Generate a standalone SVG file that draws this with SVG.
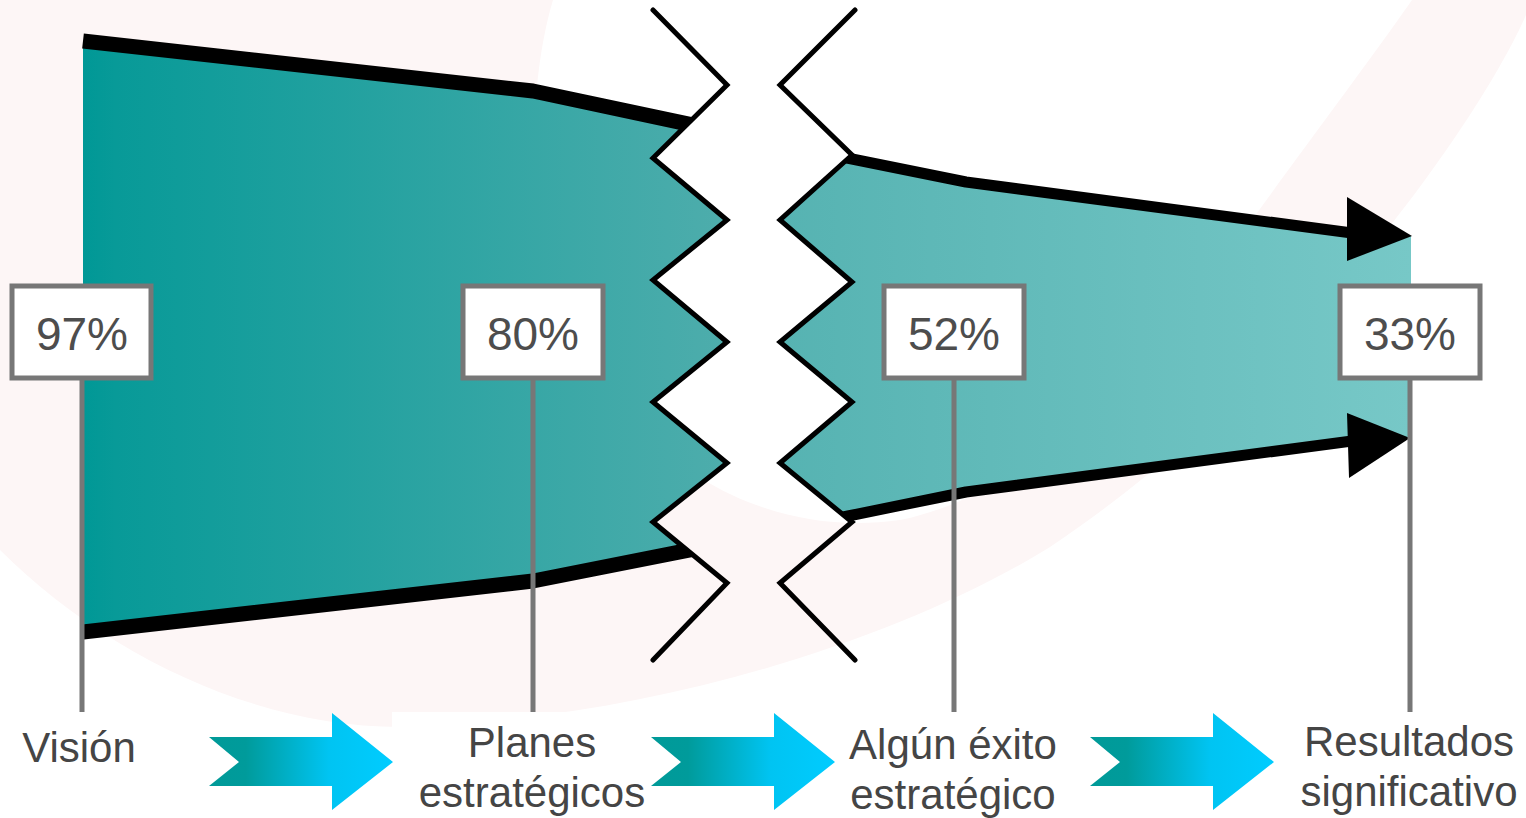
<svg xmlns="http://www.w3.org/2000/svg" width="1526" height="818" viewBox="0 0 1526 818">
  <defs>
    <linearGradient id="gLeft" gradientUnits="userSpaceOnUse" x1="83" y1="0" x2="730" y2="0">
      <stop offset="0" stop-color="#009896"/>
      <stop offset="0.05" stop-color="#089a98"/>
      <stop offset="1" stop-color="#4eadac"/>
    </linearGradient>
    <linearGradient id="gRight" gradientUnits="userSpaceOnUse" x1="780" y1="0" x2="1411" y2="0">
      <stop offset="0" stop-color="#56b3b2"/>
      <stop offset="1" stop-color="#77c8c7"/>
    </linearGradient>
    <linearGradient id="gChev" x1="0" y1="0" x2="1" y2="0">
      <stop offset="0" stop-color="#009a98"/>
      <stop offset="0.2" stop-color="#009b9b"/>
      <stop offset="0.65" stop-color="#00c4f2"/>
      <stop offset="1" stop-color="#00ccff"/>
    </linearGradient>
    <clipPath id="clipL">
      <path d="M0,0 L653,0 L653,10 L727,85 L653,158 L727,220 L653,280 L727,342 L653,402 L727,463 L653,522 L727,583 L653,660 L653,818 L0,818 Z"/>
    </clipPath>
    <clipPath id="clipR">
      <path d="M1526,0 L855,0 L855,10 L780,85 L852,155 L780,220 L852,282 L780,342 L852,402 L780,463 L852,522 L780,583 L855,660 L855,818 L1526,818 Z"/>
    </clipPath>
  </defs>
  <style>
    .thickL { fill: none; stroke: #000; stroke-width: 15; stroke-linejoin: round; }
    .thickR { fill: none; stroke: #000; stroke-width: 11; stroke-linejoin: round; }
    .zig { fill: none; stroke: #000; stroke-width: 5; stroke-linejoin: miter; stroke-linecap: round; }
    .box { fill: #fff; stroke: #777; stroke-width: 5; }
    .pole { stroke: #777; stroke-width: 5; }
    .pct { font-family: "Liberation Sans", Arial, sans-serif; font-size: 46px; fill: #4d4d4d; text-anchor: middle; }
    .lbl { font-family: "Liberation Sans", Arial, sans-serif; font-size: 42px; fill: #454545; text-anchor: middle; }
    .chev { fill: url(#gChev); }
  </style>

  <rect x="0" y="0" width="1526" height="818" fill="#fff"/>
  <g id="watermark">
    <path fill="#fdf6f6" fill-rule="evenodd" d="M0,0 H1526 V15 C1480,120 1300,380 1050,547 C900,640 650,720 400,727 C250,727 100,650 0,550 Z M553,0 C535,60 520,180 560,300 C620,460 760,540 900,520 C1050,490 1180,330 1257,213 C1310,140 1370,60 1412,0 Z"/>
    <rect x="392" y="712" width="258" height="106" fill="#fff"/>
  </g>

  <g id="node-left-band" clip-path="url(#clipL)">
    <path fill="url(#gLeft)" d="M83,41 L533,91 L740,135 L740,540 L533,581 L83,632 Z"/>
    <polyline class="thickL" points="83,41 533,91 740,135"/>
    <polyline class="thickL" points="83,632 533,581 740,540"/>
  </g>

  <g id="node-right-band">
    <g clip-path="url(#clipR)">
      <path fill="url(#gRight)" d="M760,145 L852,159 L966,182 L1350,233 L1411,236 L1411,438 L1350,441 L966,492 L848,516 L760,535 Z"/>
      <polyline class="thickR" points="760,141 852,159 966,182 1352,233"/>
      <polyline class="thickR" points="760,535 848,516 966,492 1352,441"/>
    </g>
    <polygon points="1347,197 1412,236 1347,261" fill="#000"/>
    <polygon points="1347,413 1410,438 1349,478" fill="#000"/>
  </g>

  <g id="break">
    <polyline class="zig" points="653,10 727,85 653,158 727,220 653,280 727,342 653,402 727,463 653,522 727,583 653,660"/>
    <polyline class="zig" points="855,10 780,85 852,155 780,220 852,282 780,342 852,402 780,463 852,522 780,583 855,660"/>
  </g>

  <g id="connectors">
    <line class="pole" x1="82" y1="378" x2="82" y2="712"/>
    <line class="pole" x1="533" y1="378" x2="533" y2="712"/>
    <line class="pole" x1="954" y1="378" x2="954" y2="712"/>
    <line class="pole" x1="1410" y1="378" x2="1410" y2="712"/>
    <path class="chev" d="M209,737 L332,737 L332,713 L393,762 L332,810 L332,786 L209,786 L239,762 Z"/>
    <path class="chev" d="M651,737 L774,737 L774,713 L835,762 L774,810 L774,786 L651,786 L681,762 Z"/>
    <path class="chev" d="M1090,737 L1213,737 L1213,713 L1274,762 L1213,810 L1213,786 L1090,786 L1120,762 Z"/>
  </g>

  <g id="node-97">
    <rect class="box" x="12" y="286" width="139" height="92"/>
    <text class="pct" x="82" y="350">97%</text>
  </g>
  <g id="node-80">
    <rect class="box" x="463" y="286" width="140" height="92"/>
    <text class="pct" x="533" y="350">80%</text>
  </g>
  <g id="node-52">
    <rect class="box" x="884" y="286" width="140" height="92"/>
    <text class="pct" x="954" y="350">52%</text>
  </g>
  <g id="node-33">
    <rect class="box" x="1340" y="286" width="140" height="92"/>
    <text class="pct" x="1410" y="350">33%</text>
  </g>

  <g id="node-vision">
    <text class="lbl" x="79" y="762">Visión</text>
  </g>
  <g id="node-planes">
    <text class="lbl" x="532" y="757">Planes</text>
    <text class="lbl" x="532" y="807">estratégicos</text>
  </g>
  <g id="node-exito">
    <text class="lbl" x="953" y="759">Algún éxito</text>
    <text class="lbl" x="953" y="809">estratégico</text>
  </g>
  <g id="node-resultados">
    <text class="lbl" x="1409" y="756">Resultados</text>
    <text class="lbl" x="1409" y="806">significativo</text>
  </g>
</svg>
